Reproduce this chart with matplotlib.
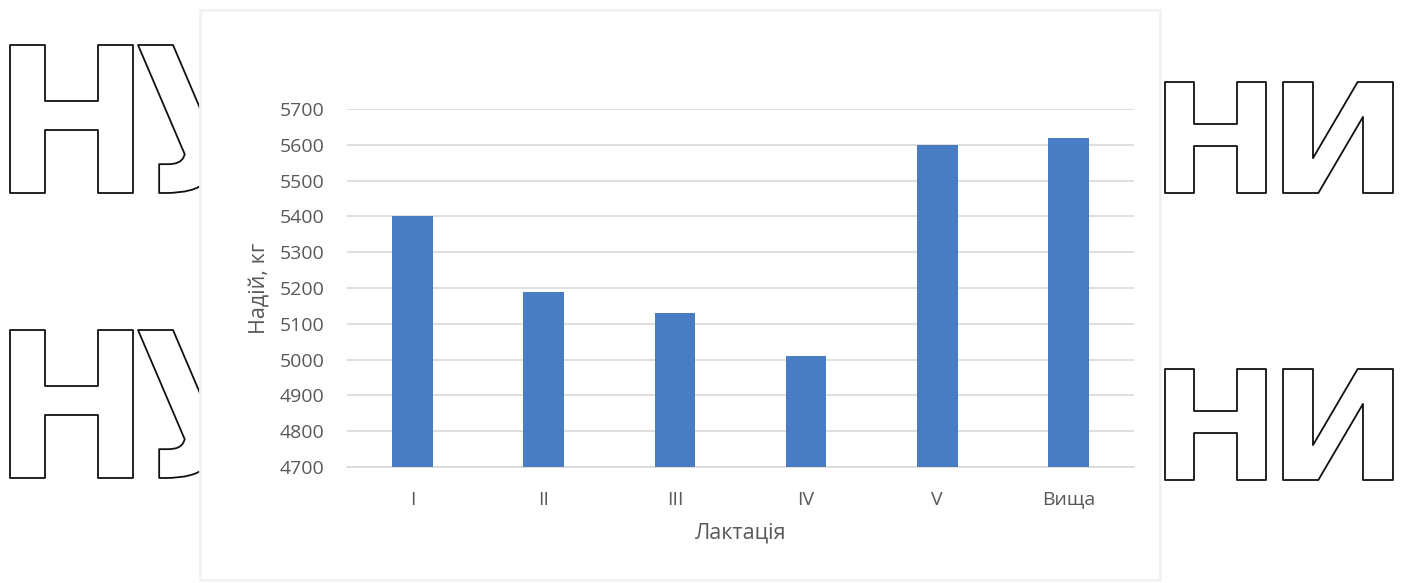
import numpy as np
import matplotlib
matplotlib.use("Agg")
import matplotlib.pyplot as plt
from matplotlib.textpath import TextPath
from matplotlib.font_manager import FontProperties
from matplotlib.patches import PathPatch, Rectangle
from matplotlib.transforms import Affine2D

plt.rcParams['font.family'] = ['Open Sans', 'DejaVu Sans']

# milk yield by lactation number
lactations = ['I', 'II', 'III', 'IV', 'V', 'Вища']
milk_yield = [5400, 5190, 5130, 5010, 5600, 5620]
y_ticks = [4700, 4800, 4900, 5000, 5100, 5200, 5300, 5400, 5500, 5600, 5700]

W, H = 1407, 583
fig = plt.figure(figsize=(W / 100, H / 100), dpi=100, facecolor='white')

# outlined background lettering, boxes given in pixels (left, top, right, bottom)
bg_letters = [
    ('Н', 10, 45, 133, 193), ('У', 138, 45, 265, 193),
    ('Н', 1165, 82, 1266, 193), ('И', 1283, 82, 1393, 193),
    ('Н', 10, 330, 133, 478), ('У', 138, 330, 265, 478),
    ('Н', 1165, 369, 1266, 480), ('И', 1283, 369, 1393, 480),
]
fp = FontProperties(family='DejaVu Sans', weight='bold')
for ch, x0, y0, x1, y1 in bg_letters:
    tp = TextPath((0, 0), ch, size=100, prop=fp)
    bb = tp.get_extents()
    tr = (Affine2D()
          .translate(-bb.x0, -bb.y0)
          .scale((x1 - x0) / bb.width, (y1 - y0) / bb.height)
          .translate(x0, H - y1)
          .scale(1 / W, 1 / H)) + fig.transFigure
    fig.add_artist(PathPatch(tp, facecolor='white', edgecolor='#111111',
                             lw=1.3, joinstyle='round', transform=tr, zorder=0))

# chart panel
fig.add_artist(Rectangle((200 / W, 1 - 580 / H), 960 / W, 570 / H,
                         transform=fig.transFigure, facecolor='white',
                         edgecolor='#f2f2f2', lw=2, zorder=1))

ax = fig.add_axes([347 / W, 116 / H, 787 / W, 358 / H], zorder=2)
ax.set_facecolor('none')
x = np.arange(len(lactations))
ax.bar(x, milk_yield, width=0.31, color='#4a7cc3', zorder=3)

ax.set_ylim(4700, 5700)
ax.set_xlim(-0.5, len(lactations) - 0.5)
ax.set_yticks(y_ticks)
ax.set_xticks(x)
ax.set_xticklabels(lactations)
ax.grid(axis='y', color='#d9d9d9', lw=1.2, zorder=0)
for s in ['top', 'right', 'left']:
    ax.spines[s].set_visible(False)
ax.spines['bottom'].set_color('#d9d9d9')
ax.spines['bottom'].set_linewidth(1.2)
ax.tick_params(axis='both', length=0, colors='#595959', labelsize=14)
ax.tick_params(axis='y', pad=16)
ax.tick_params(axis='x', pad=17)

ax.set_xlabel('Лактація', fontsize=15.5, color='#595959', labelpad=10)
ax.set_ylabel('Надій, кг', fontsize=15.5, color='#595959', labelpad=7)

fig.savefig('out.png', dpi=100, facecolor='white')
